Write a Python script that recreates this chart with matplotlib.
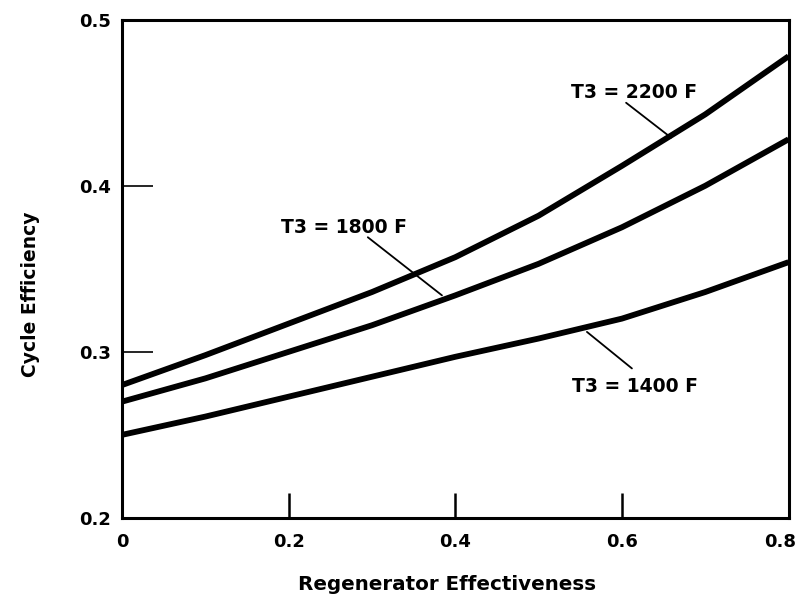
import matplotlib
matplotlib.use("Agg")
import matplotlib.pyplot as plt
import matplotlib.transforms as mtransforms
import numpy as np

plt.rcParams['font.family'] = ['DejaVu Sans']

effectiveness = [0.0, 0.1, 0.2, 0.3, 0.4, 0.5, 0.6, 0.7, 0.8]
eff_2200 = [0.280, 0.298, 0.317, 0.336, 0.357, 0.382, 0.412, 0.443, 0.478]
eff_1800 = [0.270, 0.284, 0.300, 0.316, 0.334, 0.353, 0.375, 0.400, 0.428]
eff_1400 = [0.250, 0.261, 0.273, 0.285, 0.297, 0.308, 0.320, 0.336, 0.354]

labels = ["T3 = 2200 F", "T3 = 1800 F", "T3 = 1400 F"]
x_ticks = [0, 0.2, 0.4, 0.6, 0.8]
x_ticklabels = ["0", "0.2", "0.4", "0.6", "0.8"]
y_ticks = [0.2, 0.3, 0.4, 0.5]
y_ticklabels = ["0.2", "0.3", "0.4", "0.5"]

fig = plt.figure(figsize=(8.03, 5.98), dpi=100)
ax = fig.add_axes([0.152, 0.134, 0.830, 0.833])

for ys in (eff_2200, eff_1800, eff_1400):
    ax.plot(effectiveness, ys, color='black', lw=4.2, solid_capstyle='butt',
            solid_joinstyle='round')

ax.set_xlim(0, 0.8)
ax.set_ylim(0.2, 0.5)
ax.set_xticks(x_ticks)
ax.set_xticklabels(x_ticklabels, fontsize=13, fontweight='bold')
ax.set_yticks(y_ticks)
ax.set_yticklabels(y_ticklabels, fontsize=13, fontweight='bold')
ax.tick_params(axis='x', direction='in', length=18, width=1.8, pad=11)
ax.tick_params(axis='y', direction='in', length=22, width=1.2, pad=8)
for s in ax.spines.values():
    s.set_linewidth(2.2)

# keep last x tick label inside the figure
last = ax.get_xticklabels()[-1]
last.set_transform(last.get_transform() + mtransforms.ScaledTranslation(-8 / 100, 0, fig.dpi_scale_trans))

ax.set_xlabel("Regenerator Effectiveness", fontsize=14.3, fontweight='bold')
ax.xaxis.set_label_coords(0.488, -0.115)
ax.set_ylabel("Cycle Efficiency", fontsize=13.5, fontweight='bold')
ax.yaxis.set_label_coords(-0.123, 0.448)

# annotations with leader lines
ann = [
    (labels[0], (0.614, 0.456), (0.605, 0.450), (0.659, 0.429)),
    (labels[1], (0.267, 0.375), (0.295, 0.369), (0.384, 0.334)),
    (labels[2], (0.616, 0.279), (0.558, 0.312), (0.612, 0.290)),
]
for txt, tpos, p0, p1 in ann:
    ax.text(tpos[0], tpos[1], txt, ha='center', va='center', fontsize=13.5, fontweight='bold')
    ax.annotate('', xy=p1, xytext=p0, arrowprops=dict(arrowstyle='-', lw=1.3, color='black',
                                                     shrinkA=0, shrinkB=0))

fig.savefig("out.png", dpi=100)
